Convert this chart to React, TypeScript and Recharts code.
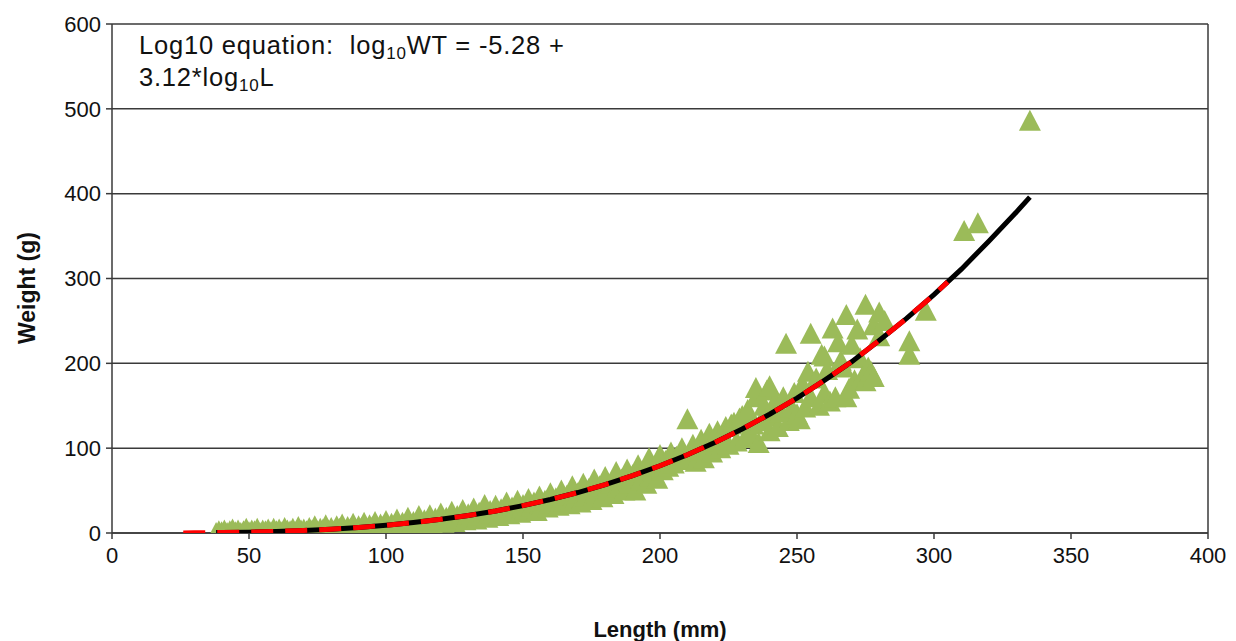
import {
  ComposedChart,
  Scatter,
  XAxis,
  YAxis,
  CartesianGrid,
  ReferenceLine,
  Label,
} from 'recharts';

const obsSmall: [number, number][] = [
  [38, 0], [39, 2], [40, 1], [41, 3], [42, 0], [43, 2], [44, 4], [45, 1], [46, 3], [47, 0],
  [48, 2], [49, 5], [50, 1], [51, 3], [52, 2], [53, 5], [54, 0], [55, 3], [56, 2], [57, 4],
  [58, 1], [59, 5], [60, 2], [61, 4], [62, 1], [63, 6], [64, 3], [65, 2], [66, 5], [67, 1],
  [68, 7], [69, 3], [70, 4], [71, 2], [72, 6], [73, 3], [74, 8], [75, 2], [76, 5], [77, 4],
  [78, 9], [79, 3], [80, 6], [81, 2], [82, 8], [83, 5], [84, 10], [85, 3], [86, 7], [87, 5],
  [88, 11], [89, 4], [90, 8], [91, 6], [92, 12], [93, 5], [94, 9], [95, 7], [96, 13], [97, 6],
  [98, 10], [99, 8], [100, 14],
];

const obsMid: [number, number][] = [
  [101, 6], [102, 11], [103, 9], [104, 16], [105, 7], [106, 12], [107, 10], [108, 18], [109, 8],
  [110, 13], [111, 11], [112, 20], [113, 9], [114, 15], [115, 12], [116, 21], [117, 10], [118, 17],
  [119, 14], [120, 23], [121, 12], [122, 18], [123, 16], [124, 25], [125, 13], [126, 20], [127, 17],
  [128, 27], [129, 15], [130, 22], [131, 19], [132, 29], [133, 16], [134, 24], [135, 21], [136, 33],
  [137, 18], [138, 26], [139, 23], [140, 32], [141, 20], [142, 28], [143, 25], [144, 36], [145, 22],
  [146, 30], [147, 27], [148, 38], [149, 24], [150, 33], [151, 28], [152, 40], [153, 31], [154, 36],
  [155, 26], [156, 43], [157, 33], [158, 38], [159, 30], [160, 47], [161, 35], [162, 41], [163, 32],
  [164, 50], [165, 37], [166, 44], [167, 34], [168, 55], [169, 40], [170, 47], [171, 36], [172, 58],
  [173, 43], [174, 52], [175, 39], [176, 63], [177, 46], [178, 55], [179, 42], [180, 66], [181, 50],
  [182, 58], [183, 46], [184, 72], [185, 54], [186, 63], [187, 50], [188, 75], [189, 58], [190, 68],
  [191, 50], [192, 80], [193, 62], [194, 72], [195, 58], [196, 88], [197, 67], [198, 78], [199, 64],
  [200, 92],
];

const obsLarge: [number, number][] = [
  [201, 74], [202, 85], [203, 78], [204, 95], [205, 82], [206, 90], [207, 86], [208, 100], [209, 88],
  [210, 134], [211, 92], [212, 104], [213, 84], [214, 97], [215, 110], [216, 88], [217, 102], [218, 117],
  [219, 95], [220, 108], [221, 120], [222, 100], [223, 112], [224, 125], [225, 104], [226, 128], [227, 130],
  [228, 108], [229, 135], [230, 138], [231, 112], [232, 145], [233, 118], [234, 128], [235, 160], [236, 106],
  [237, 132], [238, 150], [239, 168], [240, 120], [241, 138], [242, 155], [243, 125], [244, 142], [245, 160],
  [246, 223], [247, 132], [248, 148], [249, 165], [250, 140], [251, 134], [252, 175], [253, 148], [254, 190],
  [255, 160], [255, 235], [257, 182], [258, 150], [259, 210], [260, 165], [260, 208], [261, 192], [262, 155],
  [263, 241], [264, 160], [265, 225], [266, 203], [267, 195], [268, 257], [268, 160], [269, 170], [270, 222],
  [271, 180], [272, 240], [273, 206], [274, 185], [275, 269], [275, 179], [276, 195], [277, 190], [278, 245],
  [278, 184], [280, 260], [280, 232], [282, 250], [291, 226], [291, 210], [297, 262], [311, 356], [316, 365],
  [335, 486], [235, 171], [240, 173],
];

// fitted curve log10 WT = -5.28 + 3.12 log10 L
const fitLength = [26, 30, 38, 40, 50, 60, 70, 80, 90, 100, 110, 120, 130, 140, 150, 160, 170, 180, 190, 200, 210, 220, 230, 240, 250, 260, 270, 280, 290, 300, 305, 310, 320, 330, 335];
const fitWeight = [0.1, 0.2, 0.5, 0.5, 1, 1.9, 3, 4.5, 6.6, 9.1, 12.3, 16.1, 20.7, 26, 32.3, 39.5, 47.7, 57.1, 67.6, 79.3, 92.3, 106.7, 122.6, 140, 159, 180, 202, 227, 253, 281, 296, 311, 344, 378, 396];

const xTicks = [0, 50, 100, 150, 200, 250, 300, 350, 400];
const yTicks = [0, 100, 200, 300, 400, 500, 600];

const FONT = '"Liberation Sans", Arial, sans-serif';

const points = [...obsSmall, ...obsMid, ...obsLarge].map(([x, y]) => ({ x, y }));
const fit = fitLength.map((x, i) => ({ x, y: fitWeight[i] }));
const fitBlack = fit.filter((d) => d.x >= 38);
const fitRed = fit.filter((d) => d.x <= 305);

const Triangle = (props: any) => {
  const { cx, cy } = props;
  return <polygon points={`${cx},${cy - 11} ${cx - 11},${cy + 10} ${cx + 11},${cy + 10}`} fill="#9BBB59" />;
};

const NoDot = () => <g />;

const subStyle = { fontSize: 17, lineHeight: 0, verticalAlign: -5 };

export default function App() {
  return (
    <div style={{ position: 'fixed', left: 0, top: 0, width: 1236, height: 641, background: '#fff' }}>
      <ComposedChart width={1236} height={641} margin={{ top: 24, right: 28, bottom: 0, left: 0 }}>
        <CartesianGrid vertical={false} stroke="#3a3a3a" strokeWidth={1.5} />
        <XAxis
          type="number"
          dataKey="x"
          domain={[0, 400]}
          ticks={xTicks}
          height={108}
          tickSize={6}
          tickMargin={8}
          stroke="#3a3a3a"
          strokeWidth={1.5}
          tick={{ fill: '#111', fontSize: 22, fontFamily: FONT }}
          allowDataOverflow
        >
          <Label
            content={() => (
              <text x={660} y={637} textAnchor="middle" fontFamily={FONT} fontWeight="bold" fontSize={22} fill="#111">
                Length (mm)
              </text>
            )}
          />
        </XAxis>
        <YAxis
          type="number"
          dataKey="y"
          domain={[0, 600]}
          ticks={yTicks}
          width={112}
          tickSize={6}
          tickMargin={5}
          stroke="#3a3a3a"
          strokeWidth={1.5}
          tick={{ fill: '#111', fontSize: 22, fontFamily: FONT }}
          allowDataOverflow
        >
          <Label
            content={() => (
              <text
                x={27}
                y={288}
                transform="rotate(-90, 27, 288)"
                textAnchor="middle"
                dominantBaseline="central"
                fontFamily={FONT}
                fontWeight="bold"
                fontSize={23}
                fill="#111"
              >
                Weight (g)
              </text>
            )}
          />
        </YAxis>
        <ReferenceLine x={400} stroke="#3a3a3a" strokeWidth={1.5} />
        <Scatter data={points} shape={Triangle} isAnimationActive={false} />
        <Scatter
          data={fitBlack}
          shape={NoDot}
          line={{ stroke: '#000', strokeWidth: 5 }}
          isAnimationActive={false}
        />
        <Scatter
          data={fitRed}
          shape={NoDot}
          line={{ stroke: '#FF0000', strokeWidth: 5, strokeDasharray: '22 12' }}
          isAnimationActive={false}
        />
      </ComposedChart>
      <div
        style={{
          position: 'absolute',
          left: 139,
          top: 29,
          fontFamily: FONT,
          fontSize: 25.5,
          letterSpacing: 0.8,
          lineHeight: '32px',
          color: '#111',
          whiteSpace: 'nowrap',
        }}
      >
        <div>
          Log10 equation:{'\u00a0\u00a0'}log<sub style={subStyle}>10</sub>WT = -5.28 +
        </div>
        <div>
          3.12*log<sub style={subStyle}>10</sub>L
        </div>
      </div>
    </div>
  );
}
